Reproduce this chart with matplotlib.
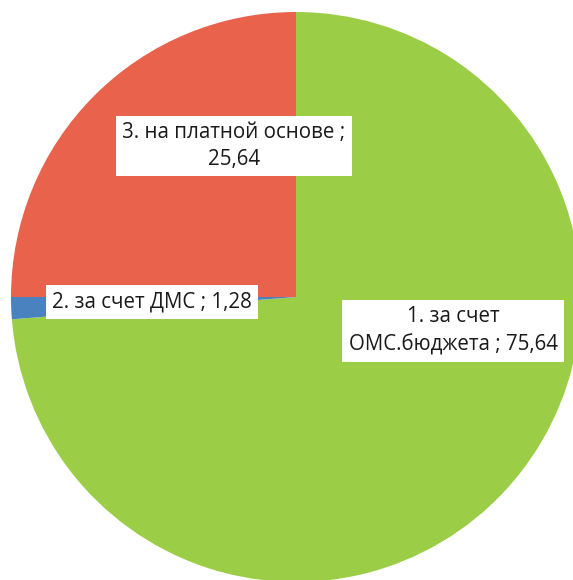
import matplotlib
matplotlib.use('Agg')
import matplotlib.pyplot as plt

# доли по источникам оплаты
categories = ['1. за счет\nОМС.бюджета', '2. за счет ДМС', '3. на платной основе']
values = [75.64, 1.28, 25.64]
value_text = ['75,64', '1,28', '25,64']
colors = ['#9bcd47', '#4a82c0', '#e8624c']

plt.rcParams['font.family'] = ['Open Sans', 'DejaVu Sans']

fig = plt.figure(figsize=(5.73, 5.80), dpi=100)
ax = fig.add_axes([0, 0, 1, 1])

ax.pie(values, colors=colors, startangle=90, counterclock=False,
       radius=1.0, wedgeprops=dict(linewidth=0))

ax.set_xlim(-296 / 285, (573 - 296) / 285)
ax.set_ylim((297 - 580) / 285, 297 / 285)
ax.set_aspect('auto')
ax.axis('off')

# подписи в белых рамках
label_pos = [(0.551, -0.119), (-0.505, -0.018), (-0.218, 0.530)]
label_text = [
    f'{categories[0]} ; {value_text[0]}',
    f'{categories[1]} ; {value_text[1]}',
    f'{categories[2]} ;\n{value_text[2]}',
]
for (x, y), txt in zip(label_pos, label_text):
    ax.text(x, y, txt, ha='center', va='center', fontsize=14.8,
            color='#1a1a1a', linespacing=1.4,
            bbox=dict(boxstyle='square,pad=0.3', fc='white', ec='none'))

fig.savefig('out.png', dpi=100)
